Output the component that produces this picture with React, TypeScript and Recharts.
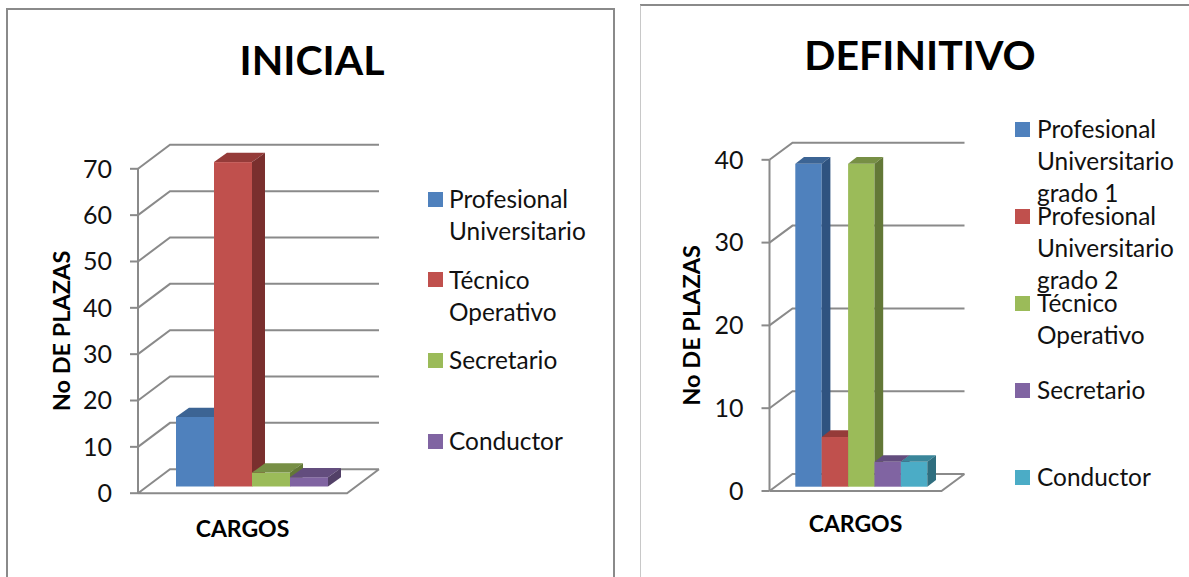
import { BarChart, Bar, XAxis, YAxis, CartesianGrid, Legend } from 'recharts'

const inicialLabels = ['Profesional Universitario', 'Técnico Operativo', 'Secretario', 'Conductor']
const inicialValues = [15, 70, 3, 2]
const inicialTicks = [0, 10, 20, 30, 40, 50, 60, 70]

const definitivoLabels = [
  'Profesional Universitario grado 1',
  'Profesional Universitario grado 2',
  'Técnico Operativo',
  'Secretario',
  'Conductor',
]
const definitivoValues = [39, 6, 39, 3, 3]
const definitivoTicks = [0, 10, 20, 30, 40]

const blue = { face: '#4f81bd', top: '#3c6494', side: '#2f5380' }
const red = { face: '#c0504d', top: '#953b39', side: '#7a2f2e' }
const green = { face: '#9bbb59', top: '#778f45', side: '#637837' }
const purple = { face: '#8064a2', top: '#634d7e', side: '#524067' }
const teal = { face: '#4bacc6', top: '#3a869a', side: '#2f6e7f' }

const inicialColors = [blue, red, green, purple]
const definitivoColors = [blue, red, green, purple, teal]

const FONT = 'Lato, "Open Sans", sans-serif'
const GRID = '#8a8a8a'

type Tone = { face: string; top: string; side: string }

function Panel({ title, labels, values, ticks, colors, cfg }: any) {
  const row: any = { name: 'CARGOS' }
  values.forEach((v: number, i: number) => {
    row[`s${i}`] = v
  })

  const plotBottom = cfg.height - cfg.margin.bottom - 1

  const wallLine = (p: any) => {
    const { x1, x2, y1, key } = p
    const back = `M${x1},${y1}L${x1 + cfg.wallX},${y1 - cfg.wallY}L${x2 + cfg.wallX},${y1 - cfg.wallY}`
    const floor =
      Math.abs(y1 - plotBottom) < 2 ? `M${x1},${y1}L${x2},${y1}L${x2 + cfg.wallX},${y1 - cfg.wallY}` : ''
    return <path key={key} d={back + floor} fill="none" stroke={GRID} strokeWidth={2} />
  }

  const box3d = (tone: Tone) => (p: any) => {
    const x = p.x + cfg.shiftX
    const y = p.y - cfg.shiftY
    const w = p.width
    const h = p.height
    const { depthX: dx, depthY: dy } = cfg
    return (
      <g>
        <rect x={x} y={y} width={w} height={h} fill={tone.face} />
        <polygon points={`${x},${y} ${x + dx},${y - dy} ${x + w + dx},${y - dy} ${x + w},${y}`} fill={tone.top} />
        <polygon
          points={`${x + w},${y} ${x + w + dx},${y - dy} ${x + w + dx},${y + h - dy} ${x + w},${y + h}`}
          fill={tone.side}
        />
      </g>
    )
  }

  const legendContent = ({ payload }: any) => (
    <div style={{ fontFamily: FONT, fontSize: cfg.legendFont, lineHeight: `${cfg.legendLine}px`, color: '#111' }}>
      {(payload || []).map((item: any) => (
        <div key={item.value} style={{ position: 'relative', height: cfg.legendPitch, paddingLeft: cfg.legendIndent }}>
          <span
            style={{
              position: 'absolute',
              left: 0,
              top: (cfg.legendLine - 15) / 2,
              width: 15,
              height: 15,
              background: item.color,
            }}
          />
          {item.value}
        </div>
      ))}
    </div>
  )

  return (
    <div style={{ position: 'absolute', left: cfg.left, top: 0, width: cfg.width, height: cfg.height, overflow: 'hidden' }}>
      <div
        style={{
          position: 'absolute',
          left: cfg.frame.left,
          top: cfg.frame.top,
          width: cfg.frame.width,
          height: 800,
          border: `2px solid ${cfg.frame.color}`,
          borderTopColor: GRID,
        }}
      />
      <div
        style={{
          position: 'absolute',
          left: cfg.titleX - 200,
          width: 400,
          top: cfg.titleY,
          textAlign: 'center',
          fontFamily: FONT,
          fontWeight: 700,
          fontSize: cfg.titleFont,
          lineHeight: '50px',
          color: '#000',
        }}
      >
        {title}
      </div>
      <div style={{ position: 'absolute', left: 0, top: 0 }}>
        <BarChart width={cfg.width} height={cfg.height} data={[row]} margin={cfg.margin} barGap={0} barSize={cfg.barSize}>
          <CartesianGrid vertical={false} horizontal={wallLine} syncWithTicks />
          <XAxis
            dataKey="name"
            axisLine={false}
            tickLine={false}
            tick={false}
            height={1}
            label={{
              value: 'CARGOS',
              position: 'bottom',
              offset: cfg.xLabelOffset,
              style: { fontFamily: FONT, fontWeight: 700, fontSize: 23, fill: '#000' },
            }}
          />
          <YAxis
            domain={[0, ticks[ticks.length - 1]]}
            ticks={ticks}
            interval={0}
            width={cfg.axisWidth}
            tickSize={8}
            tickMargin={cfg.tickMargin}
            axisLine={{ stroke: GRID, strokeWidth: 2 }}
            tickLine={{ stroke: GRID, strokeWidth: 2 }}
            tick={{ fontFamily: FONT, fontSize: cfg.tickFont, fill: '#111' }}
            label={{
              value: 'No DE PLAZAS',
              angle: -90,
              position: 'insideLeft',
              offset: cfg.yLabelOffset,
              style: { fontFamily: FONT, fontWeight: 700, fontSize: 23.5, fill: '#000', textAnchor: 'middle' },
            }}
          />
          <Legend
            layout="vertical"
            align="center"
            verticalAlign="middle"
            itemSorter="dataKey"
            content={legendContent}
            wrapperStyle={{ left: cfg.legendX, top: cfg.legendY, width: cfg.legendWidth, bottom: 'auto', margin: 0 }}
          />
          {labels.map((label: string, i: number) => (
            <Bar
              key={label}
              dataKey={`s${i}`}
              name={label}
              fill={colors[i].face}
              shape={box3d(colors[i])}
              isAnimationActive={false}
            />
          ))}
        </BarChart>
      </div>
    </div>
  )
}

const inicialCfg = {
  left: 0,
  width: 640,
  height: 577,
  margin: { top: 168.8, right: 293, bottom: 82.8, left: 68 },
  axisWidth: 70,
  tickMargin: 18,
  tickFont: 25,
  barSize: 38,
  wallX: 32,
  wallY: 24,
  shiftX: 9,
  shiftY: 6.7,
  depthX: 13,
  depthY: 9.3,
  frame: { left: 6, top: 8, width: 605, color: GRID },
  titleX: 312,
  titleY: 35,
  titleFont: 41,
  xLabelOffset: 26,
  yLabelOffset: -6,
  legendX: 428,
  legendY: 183,
  legendWidth: 165,
  legendFont: 24.4,
  legendLine: 32,
  legendPitch: 80.7,
  legendIndent: 21,
}

const definitivoCfg = {
  left: 640,
  width: 549,
  height: 577,
  margin: { top: 159.8, right: 247.5, bottom: 85, left: 59.5 },
  axisWidth: 70,
  tickMargin: 18,
  tickFont: 25,
  barSize: 26.4,
  wallX: 23,
  wallY: 17,
  shiftX: 5.8,
  shiftY: 4.3,
  depthX: 8.7,
  depthY: 6.7,
  frame: { left: -1, top: 4, width: 600, color: '#c8c8c8' },
  titleX: 280,
  titleY: 30,
  titleFont: 41,
  xLabelOffset: 24,
  yLabelOffset: -8,
  legendX: 375,
  legendY: 113,
  legendWidth: 150,
  legendFont: 24.4,
  legendLine: 32,
  legendPitch: 87,
  legendIndent: 22,
}

export default function App() {
  return (
    <div style={{ position: 'absolute', left: 0, top: 0, width: 1189, height: 577, overflow: 'hidden', background: '#fff' }}>
      <Panel title="INICIAL" labels={inicialLabels} values={inicialValues} ticks={inicialTicks} colors={inicialColors} cfg={inicialCfg} />
      <Panel title="DEFINITIVO" labels={definitivoLabels} values={definitivoValues} ticks={definitivoTicks} colors={definitivoColors} cfg={definitivoCfg} />
    </div>
  )
}
